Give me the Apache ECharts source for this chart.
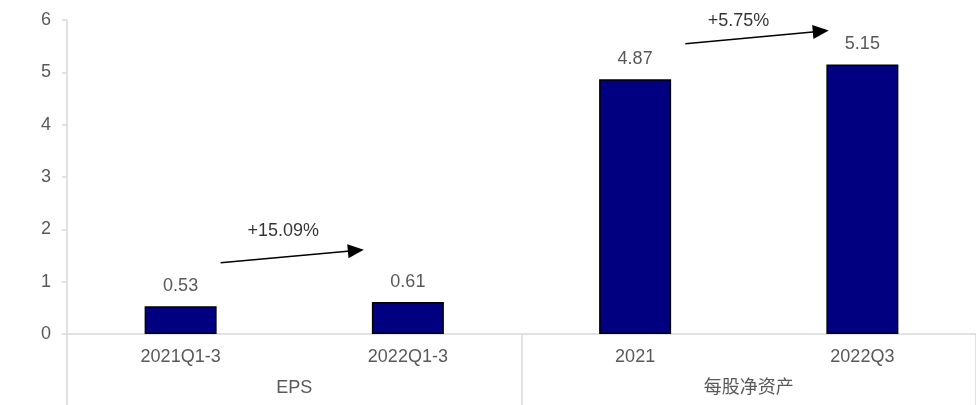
<!DOCTYPE html>
<html>
<head>
<meta charset="utf-8">
<script src="https://cdn.jsdelivr.net/npm/echarts@6/dist/echarts.min.js"></script>
<style>
  html, body { margin: 0; padding: 0; background: #fff; }
  #chart { width: 976px; height: 405px; }
</style>
</head>
<body>
<div id="chart"></div>
<script>
// Per-share metrics: EPS and net assets per share
const categories = ['2021Q1-3', '2022Q1-3', '2021', '2022Q3'];
const groups = ['EPS', '每股净资产'];
const values = [0.53, 0.61, 4.87, 5.15];
const yTicks = [0, 1, 2, 3, 4, 5, 6];

// Growth arrows, in (category position, value) units; the end point is the arrowhead centre
const growthLabels = ['+15.09%', '+5.75%'];
const arrowStarts = [[0.176, 1.36], [2.221, 5.545]];
const arrowEnds = [[0.771, 1.595], [2.817, 5.785]];
const growthLabelPos = [[0.452, 1.975], [2.455, 5.98]];

const FONT = "'Liberation Sans', Arial, 'Noto Sans CJK SC', sans-serif";
const GRAY_TEXT = '#595959';
const GRID_LINE = '#d9d9d9';

const chart = echarts.init(document.getElementById('chart'));

chart.setOption({
  animation: false,
  backgroundColor: '#fff',
  grid: { left: 67, top: 20, width: 910, bottom: 71, containLabel: false },
  xAxis: [
    {
      type: 'category',
      data: categories,
      axisLine: { lineStyle: { color: GRID_LINE, width: 1.5 } },
      axisTick: { show: false },
      axisLabel: { color: GRAY_TEXT, fontSize: 18, fontFamily: FONT, margin: 14 }
    },
    {
      type: 'category',
      data: groups,
      position: 'bottom',
      axisLine: { show: false },
      axisTick: { show: true, length: 72, lineStyle: { color: GRID_LINE, width: 1.5 } },
      axisLabel: { color: GRAY_TEXT, fontSize: 18, fontFamily: FONT, margin: 45 }
    },
    {
      type: 'value',
      min: -0.5,
      max: 3.5,
      show: false
    }
  ],
  yAxis: {
    type: 'value',
    min: yTicks[0],
    max: yTicks[yTicks.length - 1],
    interval: 1,
    splitLine: { show: false },
    axisLine: { show: true, onZero: false, lineStyle: { color: GRID_LINE, width: 1.5 } },
    axisTick: { show: true, length: 5, lineStyle: { color: GRID_LINE, width: 1.5 } },
    axisLabel: { color: GRAY_TEXT, fontSize: 18, fontFamily: FONT, margin: 16 }
  },
  series: [
    {
      type: 'bar',
      xAxisIndex: 0,
      data: values,
      barWidth: 72,
      itemStyle: { color: '#000080', borderColor: '#000', borderWidth: 1.5 },
      label: {
        show: true,
        position: 'top',
        distance: 11,
        color: GRAY_TEXT,
        fontSize: 18,
        fontFamily: FONT
      }
    },
    {
      type: 'scatter',
      xAxisIndex: 2,
      symbolSize: 0,
      data: growthLabelPos.map((p, i) => ({ value: p, name: growthLabels[i] })),
      label: {
        show: true,
        position: 'inside',
        formatter: (p) => p.name,
        color: '#000',
        fontSize: 18,
        fontFamily: FONT
      }
    },
    {
      type: 'line',
      xAxisIndex: 2,
      data: [],
      markLine: {
        silent: true,
        symbol: ['none', 'triangle'],
        symbolSize: [14, 16],
        label: { show: false },
        lineStyle: { color: '#000', width: 1.6, type: 'solid' },
        emphasis: { disabled: true },
        data: arrowStarts.map((s, i) => [{ coord: s }, { coord: arrowEnds[i] }])
      }
    }
  ]
});
</script>
</body>
</html>
